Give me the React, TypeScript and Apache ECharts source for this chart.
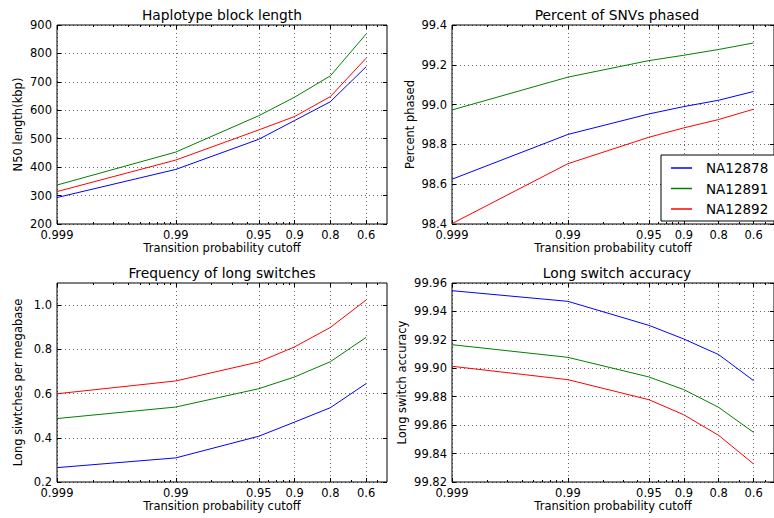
import React, { useEffect, useRef } from "react";
import * as echarts from "echarts";

// ---- data ----
const CUTOFFS = [0.999, 0.99, 0.95, 0.9, 0.8, 0.6];
const CUTOFF_LABELS = ["0.999", "0.99", "0.95", "0.9", "0.8", "0.6"];
const AXIS_MIN_TAIL = 0.001; // 1 - 0.999
const AXIS_MAX_TAIL = 0.6; // right limit of x axis (1 - cutoff)
const MINOR_TAILS = [0.002, 0.003, 0.004, 0.005, 0.006, 0.007, 0.008, 0.009, 0.02, 0.03, 0.04, 0.06, 0.07, 0.08, 0.09, 0.3, 0.5];

const SAMPLES = ["NA12878", "NA12891", "NA12892"];
const COLORS = ["#0000ff", "#008000", "#ff0000"];

const TITLES = ["Haplotype block length", "Percent of SNVs phased", "Frequency of long switches", "Long switch accuracy"];
const Y_NAMES = ["N50 length(kbp)", "Percent phased", "Long siwtches per megabase", "Long switch accuracy"];
const X_NAME = "Transition probability cutoff";

const BLOCK_NA12878 = [293, 392, 498, 564, 630, 753];
const BLOCK_NA12891 = [337, 453, 581, 646, 721, 868];
const BLOCK_NA12892 = [314, 425, 531, 578, 648, 783];

const PHASED_NA12878 = [98.625, 98.85, 98.953, 98.99, 99.022, 99.066];
const PHASED_NA12891 = [98.973, 99.138, 99.221, 99.248, 99.277, 99.31];
const PHASED_NA12892 = [98.402, 98.703, 98.836, 98.883, 98.925, 98.977];

const FREQ_NA12878 = [0.265, 0.309, 0.407, 0.471, 0.536, 0.645];
const FREQ_NA12891 = [0.487, 0.539, 0.622, 0.675, 0.744, 0.854];
const FREQ_NA12892 = [0.599, 0.657, 0.743, 0.811, 0.899, 1.023];

const ACC_NA12878 = [99.9546, 99.9471, 99.9302, 99.9206, 99.9096, 99.8913];
const ACC_NA12891 = [99.9166, 99.9077, 99.8939, 99.885, 99.8725, 99.8549];
const ACC_NA12892 = [99.9014, 99.892, 99.8779, 99.8673, 99.8528, 99.8327];

const Y_TICKS = [
  [200, 300, 400, 500, 600, 700, 800, 900],
  [98.4, 98.6, 98.8, 99.0, 99.2, 99.4],
  [0.2, 0.4, 0.6, 0.8, 1.0],
  [99.82, 99.84, 99.86, 99.88, 99.9, 99.92, 99.94, 99.96],
];
const Y_RANGES = [
  [200, 900],
  [98.4, 99.4],
  [0.2, 1.1],
  [99.82, 99.96],
];
const Y_DECIMALS = [0, 1, 1, 2];

const PANEL_VALUES = [
  [BLOCK_NA12878, BLOCK_NA12891, BLOCK_NA12892],
  [PHASED_NA12878, PHASED_NA12891, PHASED_NA12892],
  [FREQ_NA12878, FREQ_NA12891, FREQ_NA12892],
  [ACC_NA12878, ACC_NA12891, ACC_NA12892],
];

// ---- layout ----
const GRIDS = [
  { left: 57, top: 25 },
  { left: 452, top: 25 },
  { left: 57, top: 283 },
  { left: 452, top: 283 },
];
const GRID_W = 330;
const GRID_H = 199;
const Y_NAME_GAPS = [33, 36, 33, 44];
const FONT = "DejaVu Sans";

export default function App() {
  const ref = useRef<HTMLDivElement>(null);

  useEffect(() => {
    document.body.style.margin = "0";
    if (!ref.current) return;
    const chart = echarts.init(ref.current, undefined, { renderer: "svg" });

    const xs = CUTOFFS.map((c) => Math.log10(1 - c));
    const xMinor = MINOR_TAILS.map((t) => Math.log10(t));
    const xMin = Math.log10(AXIS_MIN_TAIL);
    const xMax = Math.log10(AXIS_MAX_TAIL);

    const xLabel = (v: number) => {
      let best = 0;
      xs.forEach((x, i) => {
        if (Math.abs(x - v) < Math.abs(xs[best] - v)) best = i;
      });
      return CUTOFF_LABELS[best];
    };

    const grid: any[] = [];
    const xAxis: any[] = [];
    const yAxis: any[] = [];
    const series: any[] = [];
    const title: any[] = [];

    GRIDS.forEach((g, i) => {
      grid.push({
        left: g.left,
        top: g.top,
        width: GRID_W,
        height: GRID_H,
        show: true,
        borderColor: "#000",
        borderWidth: 1,
        backgroundColor: "transparent",
        containLabel: false,
      });
      title.push({
        text: TITLES[i],
        left: g.left + GRID_W / 2,
        top: g.top - 17,
        textAlign: "center",
        padding: 0,
        textStyle: { fontFamily: FONT, fontSize: 13.8, fontWeight: "normal", color: "#000" },
      });

      const mainX = xAxis.length;
      const baseX = {
        type: "value",
        gridIndex: i,
        min: xMin,
        max: xMax,
        axisLine: { show: false, onZero: false },
        splitLine: { show: false },
        axisLabel: { show: false },
      };
      xAxis.push({
        ...baseX,
        position: "bottom",
        name: X_NAME,
        nameLocation: "middle",
        nameGap: 18,
        nameTextStyle: { fontFamily: FONT, fontSize: 11.5, color: "#000" },
        axisTick: { show: true, inside: true, length: 4, customValues: xs, lineStyle: { color: "#000", width: 1 } },
        axisLabel: {
          show: true,
          customValues: xs,
          formatter: xLabel,
          margin: 5,
          fontFamily: FONT,
          fontSize: 11.5,
          color: "#000",
        },
        splitLine: { show: true, lineStyle: { color: "#000", width: 0.6, type: [1, 3] } },
      });
      xAxis.push({
        ...baseX,
        position: "top",
        axisTick: { show: true, inside: true, length: 4, customValues: xs, lineStyle: { color: "#000", width: 1 } },
      });
      xAxis.push({
        ...baseX,
        position: "bottom",
        axisTick: { show: true, inside: true, length: 2, customValues: xMinor, lineStyle: { color: "#000", width: 1 } },
      });
      xAxis.push({
        ...baseX,
        position: "top",
        axisTick: { show: true, inside: true, length: 2, customValues: xMinor, lineStyle: { color: "#000", width: 1 } },
      });

      const mainY = yAxis.length;
      const [ymin, ymax] = Y_RANGES[i];
      const dec = Y_DECIMALS[i];
      yAxis.push({
        type: "value",
        gridIndex: i,
        min: ymin,
        max: ymax,
        position: "left",
        name: Y_NAMES[i],
        nameLocation: "middle",
        nameGap: Y_NAME_GAPS[i],
        nameTextStyle: { fontFamily: FONT, fontSize: 11.5, color: "#000" },
        axisLine: { show: false, onZero: false },
        axisTick: { show: true, inside: true, length: 4, customValues: Y_TICKS[i], lineStyle: { color: "#000", width: 1 } },
        axisLabel: {
          show: true,
          customValues: Y_TICKS[i],
          formatter: (v: number) => v.toFixed(dec),
          margin: 5,
          fontFamily: FONT,
          fontSize: 11.5,
          color: "#000",
        },
        splitLine: { show: true, lineStyle: { color: "#000", width: 0.6, type: [1, 3] } },
      });
      yAxis.push({
        type: "value",
        gridIndex: i,
        min: ymin,
        max: ymax,
        position: "right",
        axisLine: { show: false, onZero: false },
        axisTick: { show: true, inside: true, length: 4, customValues: Y_TICKS[i], lineStyle: { color: "#000", width: 1 } },
        axisLabel: { show: false },
        splitLine: { show: false },
      });

      PANEL_VALUES[i].forEach((vals, s) => {
        series.push({
          type: "line",
          name: SAMPLES[s],
          xAxisIndex: mainX,
          yAxisIndex: mainY,
          data: xs.map((x, k) => [x, vals[k]]),
          showSymbol: false,
          symbol: "none",
          lineStyle: { color: COLORS[s], width: 1 },
          itemStyle: { color: COLORS[s] },
          z: 3,
        });
      });
    });

    chart.setOption({
      animation: false,
      backgroundColor: "#fff",
      title,
      grid,
      xAxis,
      yAxis,
      series,
      legend: {
        show: true,
        orient: "vertical",
        left: 661,
        top: 155,
        data: SAMPLES,
        icon: "rect",
        itemWidth: 21,
        itemHeight: 1.5,
        itemGap: 6.5,
        padding: [6, 10, 5, 10],
        borderColor: "#000",
        borderWidth: 1,
        backgroundColor: "#fff",
        textStyle: { fontFamily: FONT, fontSize: 13.5, color: "#000", padding: [0, 0, 0, 9] },
      },
    });

    return () => chart.dispose();
  }, []);

  return <div ref={ref} style={{ width: 774, height: 518 }} />;
}
